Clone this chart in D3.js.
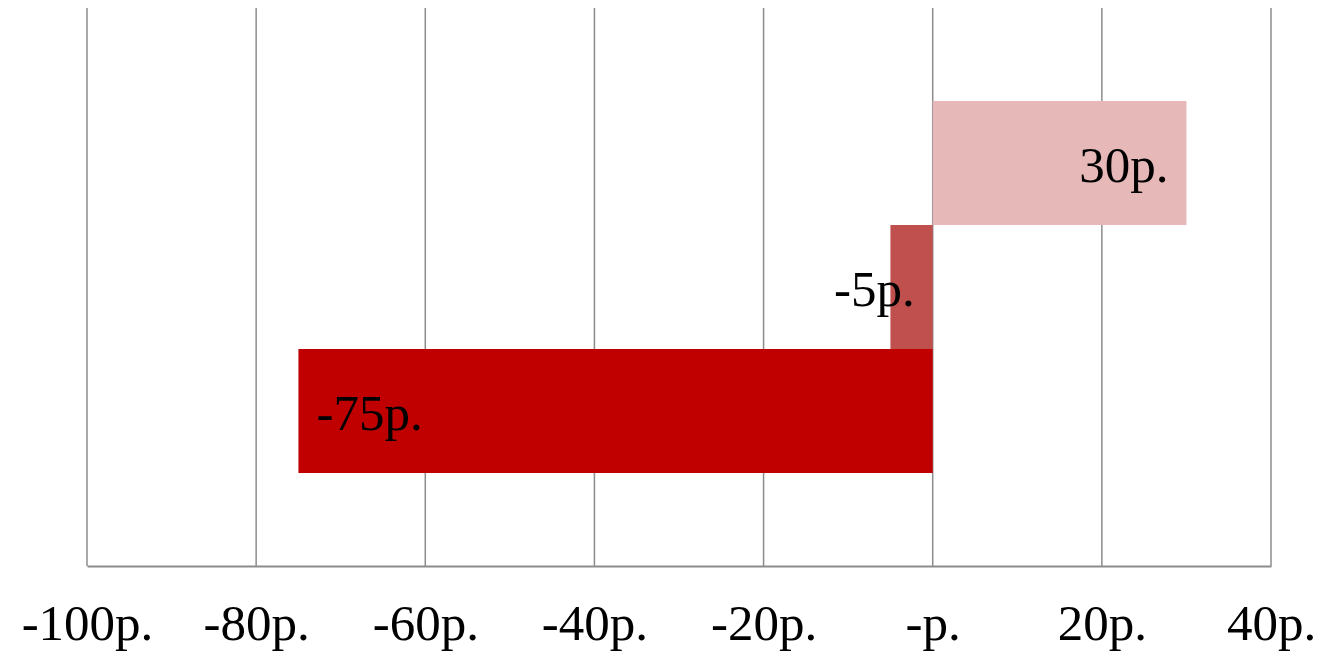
<!DOCTYPE html>
<html>
<head>
<meta charset="utf-8">
<script src="https://cdn.jsdelivr.net/npm/d3@7"></script>
<style>
  html, body { margin: 0; padding: 0; background: #fff; }
  svg { display: block; }
  text { font-family: "Liberation Serif", "DejaVu Serif", serif; }
</style>
</head>
<body>
<svg id="chart" width="1334" height="651"></svg>
<script>
// ---- data ----
const series = ["A", "B", "C"];
const values = [30, -5, -75];
const labels = ["30p.", "-5p.", "-75p."];
const colors = ["#E6B8B7", "#C0504D", "#C00000"];
const tickValues = [-100, -80, -60, -40, -20, 0, 20, 40];
const tickLabels = ["-100p.", "-80p.", "-60p.", "-40p.", "-20p.", "-p.", "20p.", "40p."];

// ---- layout ----
const mLeft = 87, mRight = 1271, mTop = 8, mBottom = 566;

const svg = d3.select("#chart");

const x = d3.scaleLinear().domain([-100, 40]).range([mLeft, mRight]);
const y = d3.scaleBand().domain(series).range([mTop, mBottom]).paddingInner(0).paddingOuter(0.75);

// gridlines
svg.append("g").selectAll("line").data(tickValues).join("line")
  .attr("x1", d => x(d)).attr("x2", d => x(d))
  .attr("y1", mTop).attr("y2", mBottom)
  .attr("stroke", "#8c8c8c").attr("stroke-width", 1.5);

// bars
svg.append("g").selectAll("rect").data(values).join("rect")
  .attr("x", d => Math.min(x(0), x(d)))
  .attr("width", d => Math.abs(x(d) - x(0)))
  .attr("y", (d, i) => y(series[i]))
  .attr("height", y.bandwidth())
  .attr("fill", (d, i) => colors[i]);

// axis baseline + tick labels
const fs = 51, pad = 18;
const axis = d3.axisBottom(x).tickValues(tickValues).tickFormat((d, i) => tickLabels[i]).tickSize(0).tickPadding(0);
const gAxis = svg.append("g").attr("transform", `translate(0,${mBottom})`).call(axis);
gAxis.select(".domain").attr("stroke", "#8c8c8c").attr("stroke-width", 2);
gAxis.selectAll("text")
  .attr("y", 74)
  .attr("dy", null)
  .attr("fill", "#000")
  .style("font-size", fs + "px")
  .style("font-family", "'Liberation Serif', 'DejaVu Serif', serif");

// data labels
const lab = svg.append("g").selectAll("text").data(values).join("text")
  .text((d, i) => labels[i])
  .attr("fill", "#000")
  .style("font-size", fs + "px")
  .attr("y", (d, i) => y(series[i]) + y.bandwidth() / 2 + 19);

lab.each(function(d, i) {
  const t = d3.select(this);
  const w = this.getComputedTextLength();
  const barW = Math.abs(x(d) - x(0));
  if (d >= 0) {
    t.attr("x", x(d) - pad).attr("text-anchor", "end");
  } else if (w + 2 * pad <= barW) {
    t.attr("x", x(d) + pad).attr("text-anchor", "start");
  } else {
    t.attr("x", x(0) - pad).attr("text-anchor", "end");
  }
});
</script>
</body>
</html>
